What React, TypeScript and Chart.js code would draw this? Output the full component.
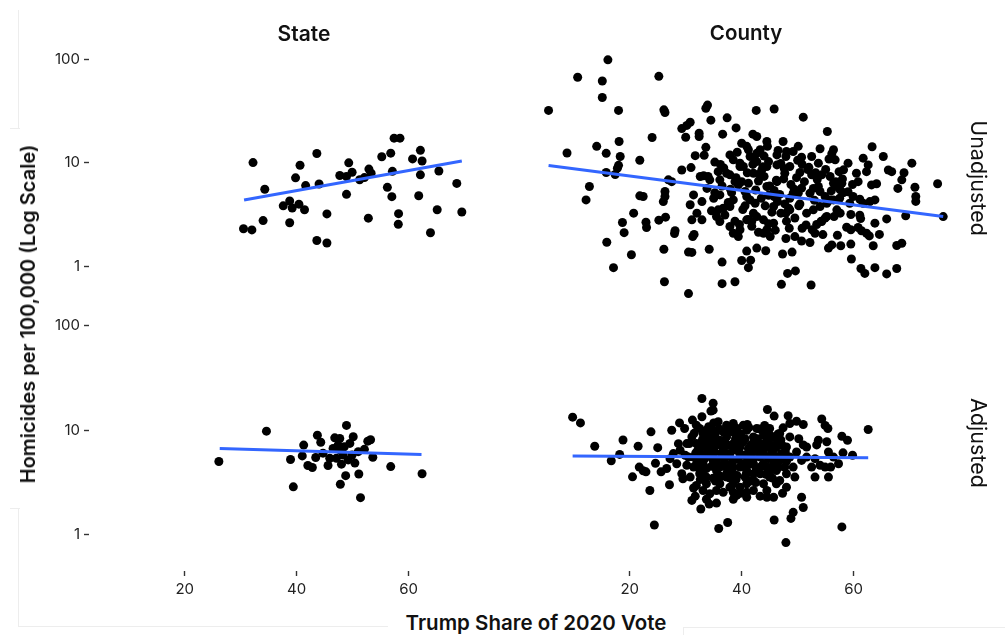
import React, { useEffect, useRef } from "react";
import { Chart, registerables } from "chart.js";

Chart.register(...registerables);

const FONT = "Inter, 'Noto Sans', 'DejaVu Sans', sans-serif";

// ---------- axis settings ----------
const X_TICKS = [20, 40, 60];
const Y_TICKS = [1, 10, 100];
const X_MIN = 2.9;
const X_MAX = 79.0;
const Y_MIN = 0.453;
const Y_MAX = 125.6;

const COLUMN_LABELS = ["State", "County"];
const ROW_LABELS = ["Unadjusted", "Adjusted"];
const X_TITLE = "Trump Share of 2020 Vote";
const Y_TITLE = "Homicides per 100,000 (Log Scale)";

// ---------- State, unadjusted ----------
const stateUnadjX = [
  32.2, 30.5, 32.0, 34.0, 34.3, 37.6, 38.75, 39.2, 40.4, 41.4,
  38.75, 39.8, 40.6, 41.6, 43.6, 44.0, 43.6, 45.4, 45.4, 48.9,
  49.3, 47.7, 48.9, 49.9, 51.25, 52.1, 52.9, 53.3, 52.8, 55.2,
  56.8, 56.2, 57.0, 57.1, 57.4, 58.45, 58.2, 58.15, 60.7, 62.1,
  62.4, 62.1, 61.8, 63.9, 65.4, 65.1, 68.6, 69.5,
];
const stateUnadjY = [
  10.05, 2.31, 2.25, 2.77, 5.56, 3.84, 4.28, 3.66, 3.99, 3.52,
  2.64, 7.16, 9.48, 6.03, 12.3, 6.25, 1.78, 1.68, 3.21, 4.96,
  10.0, 7.55, 7.38, 8.1, 6.86, 7.2, 8.7, 7.93, 2.92, 11.45,
  12.4, 5.8, 4.71, 8.27, 17.3, 17.3, 3.23, 2.55, 10.9, 13.2,
  10.4, 7.65, 4.81, 2.11, 8.33, 3.52, 6.33, 3.35,
];
const stateUnadjFitX = [30.6, 69.5];
const stateUnadjFitY = [4.38, 10.4];

// ---------- State, adjusted ----------
const stateAdjX = [
  26.1, 34.6, 38.9, 39.4, 41.0, 41.25, 43.7, 44.3, 43.4, 42.0,
  42.8, 44.7, 45.6, 45.9, 46.8, 47.7, 46.5, 47.7, 48.9, 50.1,
  49.5, 48.3, 48.0, 48.75, 47.8, 49.2, 50.4, 51.0, 51.1, 51.4,
  52.1, 52.7, 53.2, 53.6, 56.8, 62.4, 47.4, 48.5, 49.9, 47.1,
];
const stateAdjY = [
  5.02, 9.78, 5.25, 2.88, 5.68, 7.2, 8.95, 7.66, 5.48, 4.6,
  4.4, 6.03, 4.6, 5.4, 8.45, 8.33, 6.7, 6.48, 11.1, 8.66,
  7.47, 5.8, 4.74, 3.68, 3.05, 5.2, 4.85, 6.24, 3.82, 2.27,
  6.56, 7.86, 8.1, 5.52, 4.49, 3.84, 7.2, 6.95, 5.8, 5.4,
];
const stateAdjFitX = [26.25, 62.3];
const stateAdjFitY = [6.67, 5.85];

// ---------- County, unadjusted ----------
const countyUnadjX = [
  16.1, 10.7, 15.1, 25.2, 15.1, 5.5, 18.0, 26.1, 26.3, 33.9,
  33.6, 42.6, 45.8, 34.5, 37.4, 51.0, 55.3, 39.0, 29.3, 30.8,
  30.2, 30.0, 32.4, 32.4, 36.6, 24.0, 42.0, 42.7, 18.1, 14.1,
  8.8, 15.8, 18.3, 21.8, 18.0, 17.8, 15.8, 17.4, 12.8, 12.2,
  33.6, 31.7, 33.3, 35.2, 29.3, 30.95, 63.3, 65.3, 70.4, 75.0,
  76.0, 61.7, 66.2, 66.8, 69.0, 68.6, 67.9, 70.95, 71.1, 71.1,
  69.3, 65.9, 63.8, 64.6, 63.5, 67.7, 68.6, 67.7, 65.9, 63.8,
  62.0, 61.3, 59.6, 52.4, 47.1, 48.2, 49.6, 38.8, 36.5, 30.5,
  26.2, 17.1, 20.3, 15.9, 19.0, 18.7, 20.7, 22.9, 23.0, 25.2,
  26.4, 28.1, 28.0, 26.1, 31.25, 31.5, 30.5, 31.1, 34.2, 36.5,
  41.2, 41.6, 40.0, 40.9, 42.7, 44.3, 47.3, 49.0, 47.9, 49.5,
  50.7, 52.2, 53.1, 52.6, 54.5, 55.5, 56.1, 57.7, 59.5, 57.1,
  58.75, 59.5, 60.8, 61.4, 62.3, 62.8, 59.5, 61.1, 61.25, 56.5,
  57.6, 54.9, 54.3, 51.5, 48.5, 47.9, 46.4, 47.7, 45.8, 44.5,
  46.3, 45.8, 50.4, 49.2, 50.1, 48.6, 50.7, 52.2, 54.0, 54.9,
  55.9, 57.6, 58.2, 59.0, 59.9, 59.3, 61.1, 61.7, 62.9, 63.8,
  63.2, 64.1, 60.5, 60.8, 62.3, 62.6, 59.0, 58.2, 56.4, 56.1,
  56.7, 54.0, 52.5, 53.7, 52.5, 54.3, 55.8, 56.4, 57.0, 57.9,
  53.7, 50.7, 49.2, 50.1, 48.0, 47.4, 46.3, 47.9, 48.6, 50.4,
  47.7, 44.8, 44.5, 42.7, 43.6, 42.1, 43.0, 41.2, 39.7, 40.3,
  38.5, 37.9, 35.8, 37.3, 36.1, 35.2, 36.1, 34.6, 35.8, 36.7,
  37.9, 38.5, 37.6, 35.5, 36.1, 37.9, 38.5, 39.4, 39.7, 40.9,
  41.8, 42.7, 43.9, 44.8, 45.7, 44.5, 43.9, 45.1, 42.1, 42.4,
  41.5, 40.9, 40.6, 40.0, 38.8, 39.4, 34.0, 33.2, 34.3, 32.6,
  32.9, 31.4, 30.8, 32.0, 32.9, 31.1, 26.3, 26.3, 26.0, 26.9,
  27.5, 21.8, 22.4, 40.0, 40.9, 41.2, 42.7, 44.5, 44.6, 43.3,
  41.5, 39.7, 37.9, 46.3, 45.7, 47.0, 48.6, 52.8, 51.6, 54.0,
  55.2, 57.0, 56.4, 36.5, 38.0, 39.0, 41.0, 42.5, 43.5, 44.0,
  45.0, 46.8, 47.5, 48.8, 49.8, 51.2, 52.0, 53.0, 53.5, 55.0,
  56.0, 57.5, 58.0, 37.0, 38.8, 40.2, 41.8, 43.0, 44.2, 46.0,
  48.0, 49.5, 50.8, 35.0, 33.8, 36.8, 39.2, 42.0, 44.0, 46.5,
  50.0, 53.2, 55.6, 38.2, 40.6, 43.2, 45.4, 47.6, 50.2, 52.8,
  55.2, 57.4, 39.6, 42.2, 44.8, 47.0, 49.4, 51.8, 54.2, 56.8,
  41.2, 43.8, 46.2, 48.4, 50.8, 53.4, 36.2, 59.8,
];
const countyUnadjY = [
  93, 63.7, 58.8, 65, 41, 31, 31, 31.4, 29.6, 34.8,
  32.5, 31, 32, 25.1, 26.4, 26.8, 19.6, 21.2, 20.9, 24,
  22.4, 17.3, 18.9, 17.6, 18.5, 17.2, 18.5, 17.6, 15.8, 14.2,
  12.3, 12.2, 11.4, 10.5, 9.4, 8.85, 8.05, 7.7, 5.94, 4.44,
  13.9, 11.6, 11.7, 10.1, 8.5, 8.95, 14.1, 11.4, 9.86, 6.3,
  3.09, 11.0, 8.5, 8.2, 8.0, 6.86, 5.7, 5.85, 4.78, 4.3,
  3.14, 2.94, 2.68, 2.1, 1.64, 1.65, 1.73, 1.0, 0.89, 1.02,
  0.9, 1.0, 1.23, 0.7, 0.71, 0.9, 0.95, 0.75, 0.72, 0.58,
  0.75, 1.02, 1.35, 1.77, 2.18, 2.72, 3.33, 2.74, 2.44, 2.86,
  3.05, 2.27, 2.14, 1.52, 2.0, 2.1, 1.43, 1.42, 1.52, 1.15,
  1.02, 1.2, 1.19, 1.46, 1.56, 1.47, 1.37, 1.43, 1.92, 2.0,
  1.82, 1.76, 2.15, 2.32, 2.09, 1.56, 1.67, 1.64, 1.7, 2.06,
  2.45, 2.32, 2.44, 2.27, 2.15, 2.03, 3.23, 3.18, 2.96, 3.09,
  3.33, 2.99, 2.78, 2.58, 2.4, 3.33, 4.28, 4.07, 5.45, 5.94,
  6.6, 4.78, 4.07, 5.14, 5.14, 4.6, 5.73, 5.14, 5.33, 4.78,
  4.44, 5.52, 5.2, 5.3, 4.78, 4.13, 4.5, 4.13, 4.28, 4.44,
  6.15, 6.3, 7.93, 6.6, 8.2, 9.5, 9.86, 8.53, 13.2, 12.1,
  10.6, 13.5, 11.4, 9.86, 7.65, 7.65, 7.38, 6.38, 5.94, 6.38,
  5.94, 11.2, 12.7, 14.2, 12.7, 15.8, 11.8, 11.4, 9.17, 8.05,
  7.93, 10.2, 9.17, 10.2, 8.53, 7.93, 6.7, 6.38, 9.86, 9.17,
  10.6, 11.8, 8.2, 7.93, 6.86, 5.2, 4.95, 3.5, 3.58, 3.7,
  3.85, 4.44, 4.2, 3.09, 2.78, 2.49, 2.15, 2.0, 2.32, 2.88,
  2.78, 3.09, 2.88, 2.64, 2.68, 2.32, 2.15, 2.0, 3.33, 4.13,
  4.44, 4.78, 5.33, 6.6, 6.6, 6.15, 7.38, 7.5, 6.86, 7.38,
  4.28, 4.95, 4.0, 3.33, 2.88, 2.88, 5.33, 4.78, 4.28, 6.86,
  6.6, 4.85, 4.78, 15.2, 14.2, 13.2, 12.2, 15.8, 14.2, 13.2,
  11.4, 9.17, 7.65, 9.5, 3.85, 3.33, 3.58, 3.58, 3.33, 3.85,
  4.13, 3.58, 4.44, 6.0, 5.6, 7.2, 8.0, 5.5, 4.6, 7.4,
  6.0, 5.0, 7.0, 6.2, 7.2, 6.6, 9.0, 4.4, 6.9, 8.6,
  5.4, 4.6, 7.0, 3.2, 2.8, 3.6, 2.5, 2.2, 3.9, 2.3,
  2.8, 3.0, 2.4, 4.6, 5.7, 8.9, 12.5, 9.6, 11.5, 13.0,
  10.5, 8.0, 10.8, 5.2, 3.9, 7.8, 3.4, 8.8, 3.9, 5.7,
  3.1, 8.2, 2.6, 11.2, 4.9, 9.8, 5.6, 8.6, 2.8, 6.6,
  2.9, 9.1, 6.8, 3.7, 9.6, 2.6, 9.6, 6.2,
];
const countyUnadjFitX = [5.5, 76.0];
const countyUnadjFitY = [9.37, 3.1];

// ---------- County, adjusted ----------
const countyAdjX = [
  9.8, 11.2, 13.75, 18.8, 18.2, 16.7, 21.5, 23.8, 25.0, 24.6,
  21.7, 22.4, 22.9, 20.5, 25.6, 23.6, 27.1, 24.4, 35.9, 37.5,
  45.8, 47.9, 57.9, 62.6, 32.9, 34.9, 34.5, 44.6, 45.8, 48.3,
  49.8, 51.0, 54.3, 54.9, 55.4, 47.4, 44.1, 42.7, 57.9, 58.9,
  58.1, 59.8, 55.2, 55.5, 54.9, 55.9, 55.5, 53.1, 52.5, 53.4,
  53.7, 48.6, 50.2, 51.0, 51.6, 50.7, 49.2, 49.5, 48.0, 48.0,
  50.7, 51.0, 49.2, 48.8, 47.3, 45.7, 44.5, 43.3, 40.9, 39.7,
  38.5, 35.5, 34.2, 32.7, 31.1, 31.4, 29.5, 29.3, 28.4, 29.0,
  27.5, 28.9, 29.8, 31.2, 31.9, 35.8, 38.5, 39.2, 40.6, 34.9,
  33.1, 32.5, 33.7, 35.5, 37.3, 38.5, 39.7, 40.9, 42.1, 43.3,
  44.5, 45.7, 46.2, 47.1, 45.7, 44.5, 43.3, 43.9, 45.0, 46.2,
  46.8, 42.1, 40.9, 38.5, 37.3, 36.1, 34.9, 33.7, 32.5, 31.4,
  30.5, 30.2, 31.1, 31.9, 33.7, 34.9, 36.1, 37.3, 38.5, 39.7,
  37.9, 36.7, 34.9, 33.1, 32.5, 38.5, 39.7, 42.1, 43.3, 42.1,
  40.9, 40.3, 37.3, 36.1, 33.7, 32.5, 30.65, 30.2, 31.9, 33.1,
  34.3, 36.7, 37.9, 39.7, 42.1, 44.5, 46.2, 47.7, 48.6, 48.0,
  49.8, 51.6, 53.1, 54.0, 56.4, 57.3, 48.6, 46.8, 45.0, 43.9,
  39.4, 35.2, 29.9, 28.7, 27.8, 26.6, 27.2, 33.7, 35.5, 38.5,
  40.9, 42.1, 40.6, 37.9, 35.5, 43.9, 45.3, 46.8, 41.2, 39.1,
  36.7, 34.3, 32.5, 31.4, 36.1, 37.3, 33.7, 30.8, 31.7, 33.7,
  38.5, 40.9, 39.1, 32.9, 34.9, 33.0, 34.2, 35.6, 36.4, 37.8,
  38.9, 40.2, 41.6, 42.9, 44.0, 45.2, 46.4, 35.2, 36.9, 38.2,
  39.4, 41.4, 42.6, 44.8, 33.4, 34.6, 32.0, 36.0, 39.2, 41.6,
  44.3, 45.6, 47.5, 43.8, 36.8, 31.5, 32.2, 33.0, 33.8, 34.5,
  35.3, 36.0, 36.8, 37.5, 38.3, 39.0, 39.8, 40.5, 41.3, 42.0,
  42.8, 43.5, 44.3, 45.0, 45.8, 46.5, 47.3, 48.0, 31.8, 32.6,
  33.4, 34.1, 34.9, 35.7, 36.5, 37.2, 38.0, 38.7, 39.5, 40.3,
  41.0, 41.8, 42.5, 43.3, 44.0, 44.8, 45.5, 46.3, 47.0, 32.4,
  34.4, 36.2, 38.6, 40.8, 42.2, 44.6, 46.6, 35.0, 37.0, 39.0,
  41.2, 43.0, 45.2, 33.2, 47.8,
];
const countyAdjY = [
  12.8, 11.3, 6.8, 7.8, 5.7, 4.97, 6.8, 9.3, 6.6, 4.7,
  4.33, 4.0, 3.9, 3.5, 3.9, 2.6, 2.95, 1.23, 1.14, 1.3,
  1.37, 0.84, 1.18, 9.8, 19.2, 17.3, 14.6, 15.1, 13.1, 13.2,
  11.7, 10.9, 12.3, 10.7, 10.0, 10.15, 10.7, 10.0, 8.45, 7.75,
  5.9, 5.6, 7.5, 6.0, 4.33, 4.33, 3.48, 3.48, 4.33, 7.0,
  7.75, 8.33, 8.0, 7.0, 6.7, 5.0, 4.33, 3.48, 3.74, 2.79,
  2.25, 1.8, 1.62, 1.42, 2.45, 2.25, 2.25, 2.3, 2.5, 2.45,
  2.15, 1.98, 1.94, 1.74, 2.1, 2.75, 3.35, 3.74, 4.65, 6.23,
  9.64, 11.3, 10.0, 12.0, 10.75, 11.6, 11.15, 10.0, 8.0, 9.64,
  8.97, 6.7, 5.79, 5.0, 4.33, 3.74, 4.33, 5.38, 6.23, 7.21,
  7.75, 8.33, 6.7, 5.79, 5.0, 4.33, 3.74, 3.01, 3.48, 4.02,
  3.23, 3.23, 3.01, 3.01, 3.48, 3.01, 3.4, 3.01, 3.74, 4.33,
  5.38, 7.21, 8.33, 7.21, 7.45, 6.7, 7.75, 8.33, 7.21, 6.7,
  5.79, 5.38, 5.0, 4.65, 5.38, 5.0, 5.79, 4.65, 5.38, 8.33,
  9.64, 10.75, 10.75, 9.64, 9.64, 10.0, 7.21, 4.5, 2.9, 2.6,
  2.42, 2.5, 2.79, 2.79, 2.6, 2.6, 3.01, 4.33, 5.38, 6.7,
  6.0, 5.38, 5.2, 4.5, 5.38, 4.65, 11.15, 8.97, 10.0, 8.65,
  8.65, 8.65, 5.6, 7.2, 5.8, 4.2, 5.2, 4.2, 4.0, 4.33,
  4.0, 3.74, 3.48, 3.4, 2.6, 4.65, 5.79, 5.0, 6.45, 6.23,
  6.45, 6.23, 6.0, 5.38, 4.33, 3.74, 3.48, 3.48, 2.3, 2.15,
  2.5, 2.25, 2.35, 12.9, 14.9, 7.9, 8.2, 7.0, 5.8, 6.9,
  8.0, 7.4, 7.0, 6.0, 6.4, 7.0, 7.6, 6.0, 4.8, 4.7,
  5.1, 4.6, 4.2, 5.2, 5.2, 4.4, 4.8, 3.6, 3.6, 3.2,
  3.7, 4.5, 5.2, 9.4, 9.2, 9.0, 6.3, 4.0, 8.7, 7.3,
  3.2, 9.9, 6.1, 4.1, 9.3, 3.3, 8.9, 5.6, 10.2, 5.1,
  8.0, 4.4, 8.9, 3.9, 6.4, 8.9, 6.9, 4.9, 5.9, 3.3,
  8.6, 10.4, 7.9, 4.3, 7.1, 5.4, 9.7, 3.6, 7.6, 4.6,
  10.9, 5.9, 3.1, 9.9, 5.6, 8.1, 3.4, 5.4, 7.8, 4.2,
  5.6, 3.5, 6.6, 3.7, 7.5, 6.7, 4.3, 11.3, 7.5, 9.9,
  5.0, 6.6, 8.5, 6.8, 6.0,
];
const countyAdjFitX = [9.8, 62.6];
const countyAdjFitY = [5.5, 5.3];

type Rect = { l: number; t: number; r: number; b: number };

const Y_AXIS_W = 89;
const X_AXIS_H = 30;

function Panel(props: {
  xs: number[];
  ys: number[];
  fx: number[];
  fy: number[];
  showX: boolean;
  showY: boolean;
  rect: Rect;
}) {
  const { xs, ys, fx, fy, showX, showY, rect } = props;
  const ref = useRef<HTMLCanvasElement>(null);
  const canvasLeft = showY ? rect.l - Y_AXIS_W : rect.l - 10;
  const canvasTop = rect.t - 10;
  const width = rect.r - canvasLeft + 10;
  const height = rect.b - canvasTop + (showX ? X_AXIS_H : 10);

  useEffect(() => {
    if (!ref.current) return;
    const tickFont = { family: FONT, size: 15 };
    const chart = new Chart(ref.current, {
      type: "scatter",
      data: {
        datasets: [
          {
            data: fx.map((x, i) => ({ x, y: fy[i] })),
            showLine: true,
            borderColor: "#3366FF",
            backgroundColor: "#3366FF",
            borderWidth: 3,
            pointRadius: 0,
            order: 0,
          } as any,
          {
            data: xs.map((x, i) => ({ x, y: ys[i] })),
            backgroundColor: "#000000",
            borderWidth: 0,
            pointRadius: 4.5,
            order: 1,
          },
        ],
      },
      options: {
        animation: false,
        responsive: false,
        maintainAspectRatio: false,
        events: [],
        layout: {
          padding: {
            top: 10,
            right: 10,
            left: showY ? 0 : 10,
            bottom: showX ? 0 : 10,
          },
        },
        plugins: { legend: { display: false }, tooltip: { enabled: false } },
        scales: {
          x: {
            type: "linear",
            min: X_MIN,
            max: X_MAX,
            bounds: "data",
            display: showX,
            afterFit: (s: any) => {
              if (showX) s.height = X_AXIS_H;
            },
            afterBuildTicks: (s: any) => {
              s.ticks = X_TICKS.map((v) => ({ value: v }));
            },
            grid: {
              drawOnChartArea: false,
              drawTicks: true,
              tickLength: 5,
              tickWidth: 1.4,
              tickColor: "#333333",
            },
            border: { display: false },
            ticks: {
              font: tickFont,
              color: "#222222",
              padding: 4,
              maxRotation: 0,
              callback: (v: any) => String(v),
            },
          },
          y: {
            type: "logarithmic",
            min: Y_MIN,
            max: Y_MAX,
            bounds: "data",
            display: showY,
            afterFit: (s: any) => {
              if (showY) s.width = Y_AXIS_W;
            },
            afterBuildTicks: (s: any) => {
              s.ticks = Y_TICKS.map((v) => ({ value: v }));
            },
            grid: {
              drawOnChartArea: false,
              drawTicks: true,
              tickLength: 5,
              tickWidth: 1.4,
              tickColor: "#333333",
            },
            border: { display: false },
            ticks: {
              font: tickFont,
              color: "#222222",
              padding: 4,
              callback: (v: any) => String(v),
            },
          },
        },
      } as any,
    });
    return () => chart.destroy();
  }, []);

  return (
    <canvas
      ref={ref}
      width={width}
      height={height}
      style={{ position: "absolute", left: canvasLeft, top: canvasTop, width, height }}
    />
  );
}

const STATE_L = 89, STATE_R = 515, COUNTY_L = 534, COUNTY_R = 960;
const TOP_T = 46, TOP_B = 305, BOT_T = 312, BOT_B = 571;

function Label(props: { text: string; x: number; y: number; size: number; weight: number; rotate?: number }) {
  const { text, x, y, size, weight, rotate = 0 } = props;
  return (
    <div
      style={{
        position: "absolute",
        left: x,
        top: y,
        transform: `translate(-50%, -50%) rotate(${rotate}deg)`,
        fontFamily: FONT,
        fontSize: size,
        fontWeight: weight,
        color: "#111111",
        whiteSpace: "nowrap",
        lineHeight: 1,
      }}
    >
      {text}
    </div>
  );
}

function Faint(props: { l: number; t: number; w: number; h: number }) {
  return (
    <div
      style={{
        position: "absolute",
        left: props.l,
        top: props.t,
        width: props.w,
        height: props.h,
        background: "#ededed",
      }}
    />
  );
}

export default function App() {
  return (
    <div
      style={{
        position: "fixed",
        left: 0,
        top: 0,
        width: 1005,
        height: 635,
        background: "#ffffff",
        overflow: "hidden",
      }}
    >
      <Faint l={18} t={10} w={1} h={118} />
      <Faint l={10} t={128} w={10} h={1} />
      <Faint l={10} t={508} w={10} h={1} />
      <Faint l={18} t={508} w={1} h={118} />
      <Faint l={18} t={626} w={370} h={1} />
      <Faint l={683} t={627} w={322} h={1} />
      <Faint l={683} t={627} w={1} h={8} />

      <Panel xs={stateUnadjX} ys={stateUnadjY} fx={stateUnadjFitX} fy={stateUnadjFitY}
        showX={false} showY={true} rect={{ l: STATE_L, t: TOP_T, r: STATE_R, b: TOP_B }} />
      <Panel xs={countyUnadjX} ys={countyUnadjY} fx={countyUnadjFitX} fy={countyUnadjFitY}
        showX={false} showY={false} rect={{ l: COUNTY_L, t: TOP_T, r: COUNTY_R, b: TOP_B }} />
      <Panel xs={stateAdjX} ys={stateAdjY} fx={stateAdjFitX} fy={stateAdjFitY}
        showX={true} showY={true} rect={{ l: STATE_L, t: BOT_T, r: STATE_R, b: BOT_B }} />
      <Panel xs={countyAdjX} ys={countyAdjY} fx={countyAdjFitX} fy={countyAdjFitY}
        showX={true} showY={false} rect={{ l: COUNTY_L, t: BOT_T, r: COUNTY_R, b: BOT_B }} />

      <Label text={COLUMN_LABELS[0]} x={304} y={33} size={21} weight={600} />
      <Label text={COLUMN_LABELS[1]} x={746} y={33} size={20.5} weight={600} />
      <Label text={ROW_LABELS[0]} x={978} y={178} size={21.5} weight={400} rotate={90} />
      <Label text={ROW_LABELS[1]} x={978} y={443} size={21.5} weight={400} rotate={90} />
      <Label text={Y_TITLE} x={28} y={314} size={20} weight={600} rotate={-90} />
      <Label text={X_TITLE} x={536} y={623} size={20.5} weight={600} />
    </div>
  );
}
